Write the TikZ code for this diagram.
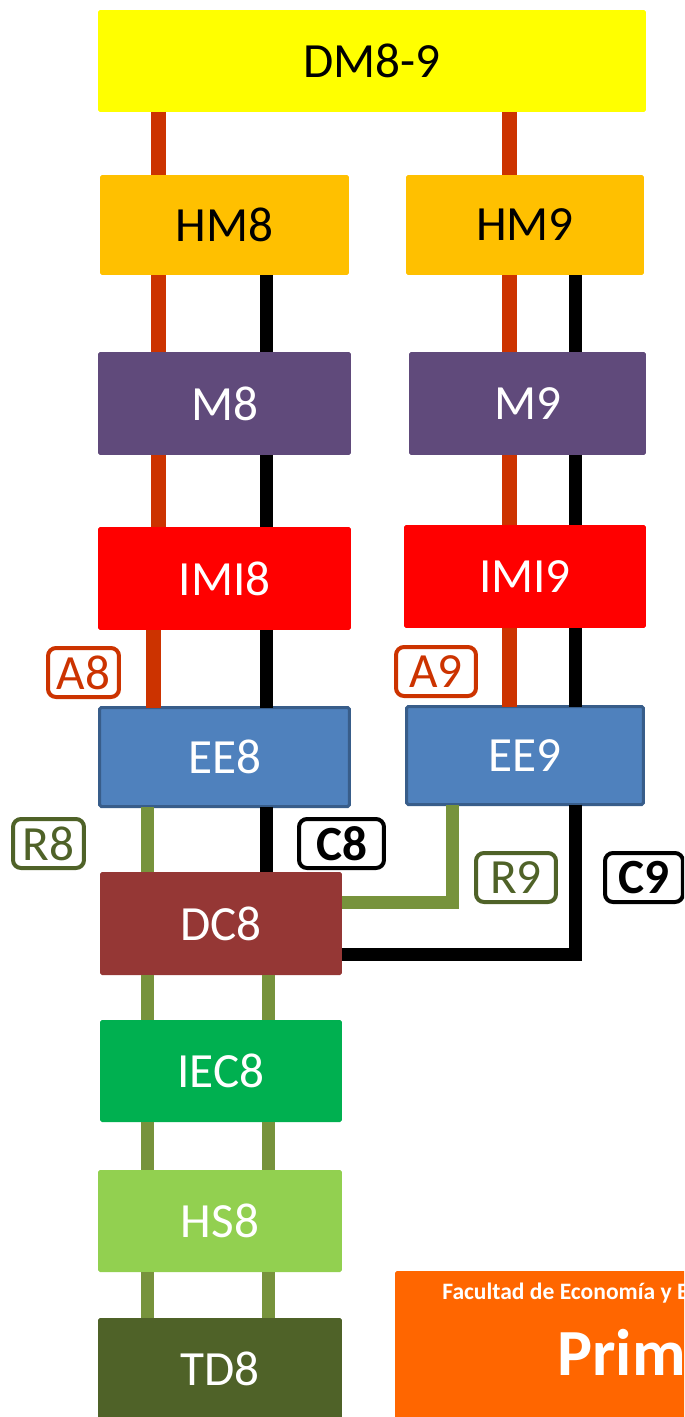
\documentclass[tikz,border=0pt]{standalone}
\usepackage{fontspec}
\setmainfont{Carlito}
\usetikzlibrary{arrows.meta}

\definecolor{yellowbox}{HTML}{FFFF00}
\definecolor{amberbox}{HTML}{FFC000}
\definecolor{purplebox}{HTML}{604A7B}
\definecolor{redbox}{HTML}{FF0000}
\definecolor{bluebox}{HTML}{4F81BD}
\definecolor{blueedge}{HTML}{385D8A}
\definecolor{brownbox}{HTML}{953735}
\definecolor{greenbox}{HTML}{00B050}
\definecolor{lightbox}{HTML}{92D050}
\definecolor{olivebox}{HTML}{4F6228}
\definecolor{orangebox}{HTML}{FF6600}
\definecolor{redlinkc}{HTML}{CC3300}
\definecolor{greenlinkc}{HTML}{77933C}

\tikzset{
	box/.style={ rectangle, rounded corners=1pt, inner sep=0pt, outer sep=0pt, text=white, font=\fontsize{28}{30}\selectfont },
	tag/.style={ rectangle, rounded corners=0.16cm, draw, line width=0.08cm, fill=white, inner sep=0pt, minimum height=0.98cm, font=\fontsize{28}{30}\selectfont },
	redlink/.style={ draw=redlinkc, line width=0.3cm },
	blacklink/.style={ draw=black, line width=0.26cm },
	greenlink/.style={ draw=greenlinkc, line width=0.26cm, line join=miter },
}

\begin{document}
\begin{tikzpicture}[ x=0.02cm, y=-0.02cm ]

	\useasboundingbox (0, 0) rectangle (684, 1417);
	\clip (0, 0) rectangle (684, 1417);

	\coordinate (colR) at (158.5, 0);
	\coordinate (colRb) at (153.5, 0);
	\coordinate (colK) at (266.5, 0);
	\coordinate (colRn) at (509.5, 0);
	\coordinate (colKn) at (575, 0);
	\coordinate (colG) at (147.5, 0);
	\coordinate (colGr) at (268, 0);
	\coordinate (colGn) at (452.5, 0);

	\node[ box, fill=yellowbox, text=black, minimum width=10.96cm, minimum height=2.04cm ] (dm) at (372, 61) {DM8-9};

	\node[ box, fill=amberbox, text=black, minimum width=4.98cm, minimum height=2cm ] (hm8) at (224.5, 225) {HM8};
	\node[ box, fill=amberbox, text=black, minimum width=4.76cm, minimum height=2cm ] (hm9) at (525, 225) {HM9};

	\node[ box, fill=purplebox, minimum width=5.06cm, minimum height=2.06cm ] (m8) at (224.5, 403.5) {M8};
	\node[ box, fill=purplebox, minimum width=4.74cm, minimum height=2.06cm ] (m9) at (527.5, 403.5) {M9};

	\node[ box, fill=redbox, minimum width=5.06cm, minimum height=2.06cm ] (imi8) at (224.5, 578.5) {IMI8};
	\node[ box, fill=redbox, minimum width=4.84cm, minimum height=2.06cm ] (imi9) at (525, 576.5) {IMI9};

	\node[ box, fill=bluebox, draw=blueedge, line width=0.06cm, minimum width=5cm, minimum height=1.98cm ] (ee8) at (224.5, 757) {EE8};
	\node[ box, fill=bluebox, draw=blueedge, line width=0.06cm, minimum width=4.74cm, minimum height=1.96cm ] (ee9) at (525, 755.5) {EE9};

	\node[ box, fill=brownbox, minimum width=4.84cm, minimum height=2.06cm ] (dc8) at (221, 923.5) {DC8};
	\node[ box, fill=greenbox, minimum width=4.84cm, minimum height=2.04cm ] (iec8) at (221, 1071) {IEC8};
	\node[ box, fill=lightbox, minimum width=4.88cm, minimum height=2.04cm ] (hs8) at (220, 1221) {HS8};
	\node[ box, fill=olivebox, minimum width=4.88cm, minimum height=2.04cm ] (td8) at (220, 1369) {TD8};

	\node[ box, fill=orangebox, anchor=north west, minimum width=8cm, minimum height=3.5cm ] (banner) at (395, 1271) {};
	\node[ anchor=base west, inner sep=0pt, text=white, font=\bfseries\fontsize{13.4}{15}\selectfont ] (faculty) at (442, 1299) {Facultad de Economía y Empresa};
	\node[ anchor=base west, inner sep=0pt, text=white, font=\bfseries\fontsize{37.5}{40}\selectfont ] (course) at (557, 1375) {Prim};

	\draw[ redlink ] (dm.south -| colR) -- (hm8.north -| colR);
	\draw[ redlink ] (dm.south -| colRn) -- (hm9.north -| colRn);

	\foreach \a/\b in {hm8/m8, m8/imi8} {
		\draw[ redlink ] (\a.south -| colR) -- (\b.north -| colR);
		\draw[ blacklink ] (\a.south -| colK) -- (\b.north -| colK);
	}
	\foreach \a/\b in {hm9/m9, m9/imi9, imi9/ee9} {
		\draw[ redlink ] (\a.south -| colRn) -- (\b.north -| colRn);
		\draw[ blacklink ] (\a.south -| colKn) -- (\b.north -| colKn);
	}
	\draw[ redlink ] (imi8.south -| colRb) -- (ee8.north -| colRb);
	\draw[ blacklink ] (imi8.south -| colK) -- (ee8.north -| colK);

	\draw[ greenlink ] (ee8.south -| colG) -- (dc8.north -| colG);
	\draw[ blacklink ] (ee8.south -| colK) -- (dc8.north -| colK);

	\draw[ greenlink ] (ee9.south -| colGn) |- ([yshift=0.42cm]dc8.east);
	\draw[ blacklink, line join=miter ] (ee9.south -| colKn) |- ([yshift=-0.62cm]dc8.east);

	\foreach \a/\b in {dc8/iec8, iec8/hs8, hs8/td8} {
		\draw[ greenlink ] (\a.south -| colG) -- (\b.north -| colG);
		\draw[ greenlink ] (\a.south -| colGr) -- (\b.north -| colGr);
	}

	\node[ tag, draw=redlinkc, text=redlinkc, minimum width=1.42cm ] (a8) at (83.5, 672.5) {A8};
	\node[ tag, draw=redlinkc, text=redlinkc, minimum width=1.6cm ] (a9) at (436, 671.5) {A9};
	\node[ tag, draw=olivebox, text=olivebox, minimum width=1.42cm ] (r8) at (48.5, 843.5) {R8};
	\node[ tag, draw=olivebox, text=olivebox, minimum width=1.6cm ] (r9) at (516, 877.5) {R9};
	\node[ tag, draw=black, text=black, minimum width=1.7cm, font=\bfseries\fontsize{28}{30}\selectfont ] (c8) at (341.5, 843.5) {C8};
	\node[ tag, draw=black, text=black, minimum width=1.56cm, font=\bfseries\fontsize{28}{30}\selectfont ] (c9) at (644, 877.5) {C9};

\end{tikzpicture}
\end{document}
